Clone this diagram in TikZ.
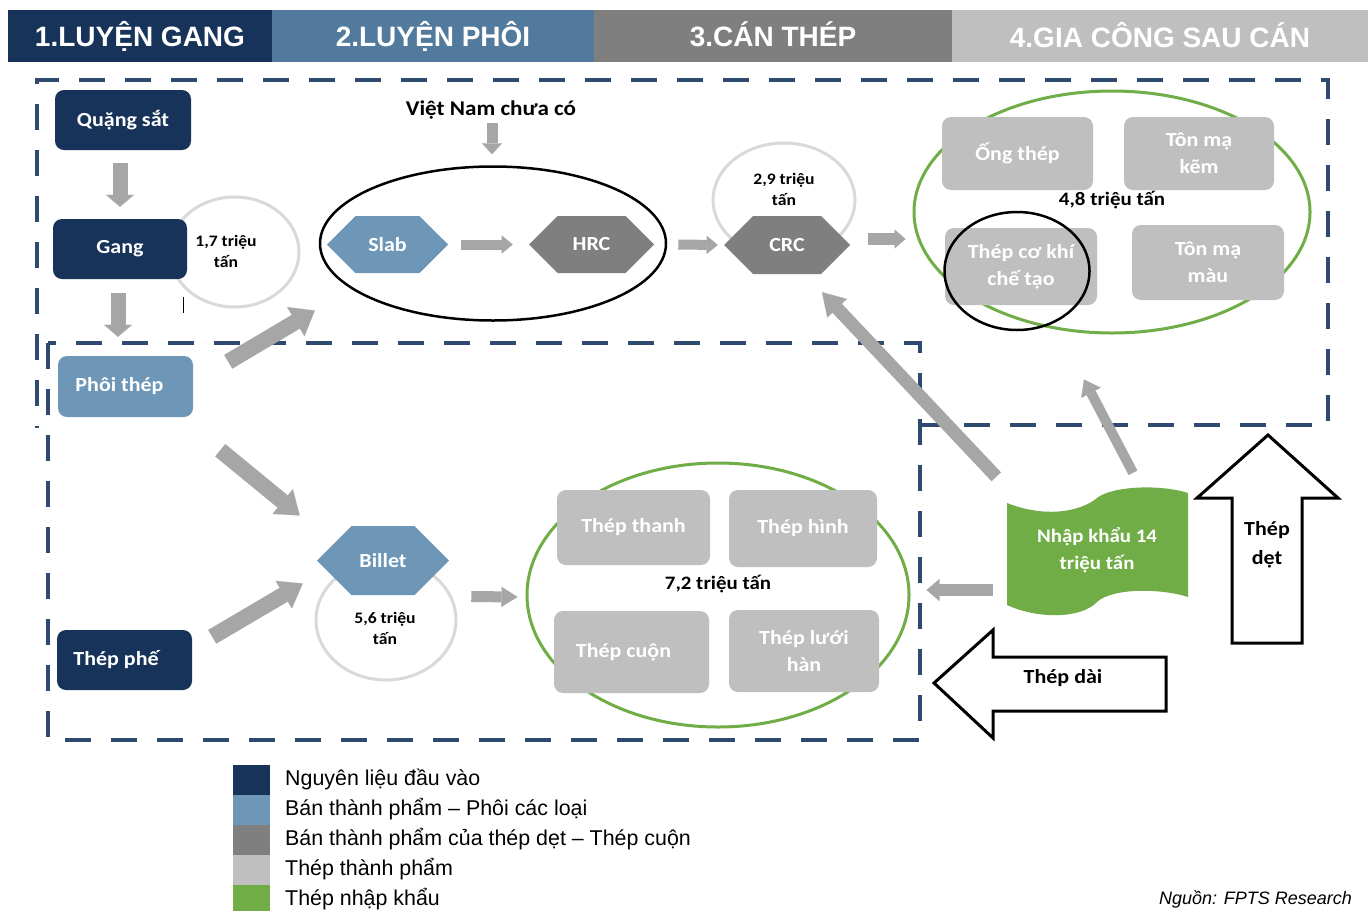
\documentclass[tikz,border=0pt]{standalone}
\usepackage{fontspec}
\setmainfont{Liberation Sans}
\newfontfamily\calib[FakeStretch=1.1]{Carlito}
\usetikzlibrary{shapes.geometric,shapes.symbols,arrows.meta,calc}
\definecolor{navy}{HTML}{17335A}
\definecolor{hdrblue}{HTML}{527A9C}
\definecolor{steel}{HTML}{6D96B7}
\definecolor{dgray}{HTML}{7F7F7F}
\definecolor{lgray}{HTML}{BFBFBF}
\definecolor{agray}{HTML}{A6A6A6}
\definecolor{cgray}{HTML}{D9D9D9}
\definecolor{igreen}{HTML}{70AD47}
\definecolor{dashblue}{HTML}{2E4A6E}
\begin{document}
\begin{tikzpicture}[x=1pt,y=-1pt,
  hdr/.style={font=\fontsize{28}{30}\selectfont\bfseries, text=white, inner sep=0pt},
  box/.style={rounded corners=9pt, inner sep=0pt, font=\calib\fontsize{20}{27}\selectfont\bfseries, text=white, align=center},
  navybox/.style={box, fill=navy},
  steelbox/.style={box, fill=steel},
  prodbox/.style={box, fill=lgray},
  hexa/.style={signal, signal to=west and east, inner sep=0pt, font=\calib\fontsize{20}{24}\selectfont\bfseries, text=white},
  qty/.style={font=\calib\fontsize{16}{21}\selectfont\bfseries, text=black, align=center, inner sep=0pt},
  bigqty/.style={font=\calib\fontsize{19}{22}\selectfont\bfseries, text=black, inner sep=0pt},
  ring/.style={ellipse, draw=cgray, line width=3pt, inner sep=0pt},
  gring/.style={ellipse, draw=igreen, line width=3pt, inner sep=0pt},
  bring/.style={ellipse, draw=black, line width=2.5pt, inner sep=0pt},
  garrow/.style n args={3}{draw=agray, line width=#1, -{Triangle[width=#2,length=#3,line width=0.1pt]}},
  dashline/.style={draw=dashblue, line width=4.5pt, dash pattern=on 26pt off 20pt},
  outarrow/.style={draw=black, line width=3pt, fill=white, line join=miter},
  legtext/.style={anchor=west, font=\fontsize{21.4}{24}\selectfont, inner sep=0pt},
]
\useasboundingbox (0,0) rectangle (1372,911);
\fill[white] (0,0) rectangle (1372,911);

% header
\node[hdr, fill=navy, minimum width=264pt, minimum height=52pt] (h1) at (140,36) {\raisebox{3pt}{1.LUYỆN GANG}};
\node[hdr, fill=hdrblue, minimum width=322pt, minimum height=52pt] (h2) at (433,36) {\raisebox{3pt}{2.LUYỆN PHÔI}};
\node[hdr, fill=dgray, minimum width=358pt, minimum height=52pt] (h3) at (773,36) {\raisebox{3pt}{3.CÁN THÉP}};
\node[hdr, fill=lgray, minimum width=416pt, minimum height=52pt] (h4) at (1160,36) {\raisebox{3pt}{4.GIA CÔNG SAU CÁN}};

% dashed regions
\draw[dashline] (48,343) rectangle (920,740);
\draw[dashline] (918,425) -- (1328,425) -- (1328,80) -- (37,80) -- (37,428);

% background rings
\node[ring, minimum width=129pt, minimum height=110pt] (c17) at (234.5,252) {};
\node[ring, minimum width=142pt, minimum height=114pt] (c29) at (784,200) {};
\node[ring, minimum width=140pt, minimum height=120pt] (c56) at (386,620) {};
\node[gring, minimum width=396pt, minimum height=242pt] (eU) at (1112,212) {};
\node[gring, minimum width=382pt, minimum height=264pt] (eL) at (718,595) {};
\node[bring, minimum width=346pt, minimum height=154pt] (elA) at (493,243.5) {};

% left column
\node[navybox, minimum width=136pt, minimum height=60pt] (quang) at (123,120) {Quặng sắt};
\node[navybox, minimum width=134pt, minimum height=60pt] (gang) at (120,249) {Gang};
\node[steelbox, minimum width=135pt, minimum height=61pt] (phoi) at (125.5,386.5) {Phôi thép\hspace*{12pt}};
\node[navybox, minimum width=135pt, minimum height=60pt] (phe) at (124.5,660) {Thép phế\hspace*{17pt}};

\node[qty] (t17) at (226,251) {1,7 triệu\\tấn};
\draw[black, line width=1pt] (gang.south east) ++ (-4,18) coordinate (cur1) -- ++(0,16) coordinate (cur2);

% flat chain
\node[font=\calib\fontsize{21}{24}\selectfont\bfseries, inner sep=0pt] (vn) at (491,110) {Việt Nam chưa có};
\node[hexa, fill=steel, minimum width=121pt, minimum height=57pt] (slab) at (387.5,244.5) {Slab};
\node[hexa, fill=dgray, minimum width=125pt, minimum height=57pt] (hrc) at (591.5,244.5) {HRC};
\node[hexa, fill=dgray, minimum width=126pt, minimum height=58pt] (crc) at (787,245) {CRC};
\node[qty] (t29) at (784,189) {2,9 triệu\\tấn};

% upper products
\node[prodbox, minimum width=151pt, minimum height=73pt] (ong) at (1017.5,153.5) {Ống thép};
\node[prodbox, minimum width=150pt, minimum height=73pt] (tonkem) at (1199,153.5) {Tôn mạ\\kẽm};
\node[prodbox, minimum width=152pt, minimum height=77pt] (ck) at (1021,266.5) {Thép cơ khí\\chế tạo};
\node[prodbox, minimum width=152pt, minimum height=75pt] (tonmau) at (1208,262.5) {Tôn mạ\\màu};
\node[bigqty] (t48) at (1112,200) {4,8 triệu tấn};
\node[bring, minimum width=145pt, minimum height=118pt] (ckring) at (1017,271) {};

% billet
\node[hexa, fill=steel, minimum width=132pt, minimum height=69pt] (billet) at (383,560.5) {Billet};
\node[qty] (t56) at (385,628) {5,6 triệu\\tấn};

% lower products
\node[prodbox, minimum width=153pt, minimum height=75pt] (thanh) at (633.5,527.5) {Thép thanh};
\node[prodbox, minimum width=148pt, minimum height=77pt] (hinh) at (803,528.5) {Thép hình};
\node[prodbox, minimum width=155pt, minimum height=82pt] (cuon) at (631.5,652) {Thép cuộn\hspace*{16pt}};
\node[prodbox, minimum width=150pt, minimum height=82pt] (luoi) at (804,651) {Thép lưới\\hàn};
\node[bigqty] (t72) at (718,584) {7,2 triệu tấn};

% import banner
\fill[igreen] (1007,503) .. controls (1045,518) and (1080,512) .. (1097,498)
  .. controls (1112,486) and (1160,484) .. (1188,493) -- (1188,597)
  .. controls (1160,588) and (1112,588) .. (1097,602)
  .. controls (1082,618) and (1040,620) .. (1007,605) -- cycle;
\node[font=\calib\fontsize{19}{27}\selectfont\bfseries, text=white, align=center, inner sep=0pt,
  minimum width=181pt, minimum height=110pt] (nk) at (1097,550) {Nhập khẩu 14\\triệu tấn};

% outline arrows
\draw[outarrow] (1232,643) -- (1302,643) -- (1302,498) -- (1338,498) -- (1268,435) -- (1197,498) -- (1232,498) -- cycle;
\node[font=\calib\fontsize{20}{29}\selectfont\bfseries, align=center, inner sep=0pt] (det) at (1267,545) {Thép\\dẹt};
\draw[outarrow] (1166,657) -- (993,657) -- (993,630) -- (934,683) -- (993,738) -- (993,711) -- (1166,711) -- cycle;
\node[font=\calib\fontsize{20}{24}\selectfont\bfseries, inner sep=0pt] (dai) at (1063,678) {Thép dài};

% gray flow arrows
\draw[garrow={15pt}{28pt}{12pt}] ($(gang.north |- quang.south)+(0,13)$) -- ($(gang.north)+(0,-12)$);
\draw[garrow={15pt}{28pt}{12pt}] ($(gang.south)+(-2,14)$) -- ($(gang.south |- phoi.north)+(-2,-19)$);
\draw[garrow={16pt}{34pt}{22pt}] ($(phoi.north east)+(35,6)$) -- ($(elA.west)+(-4,67)$);
\draw[garrow={16pt}{32pt}{22pt}] ($(phoi.south east)+(27,33)$) -- ($(billet.west)+(-17,-45)$);
\draw[garrow={16pt}{32pt}{22pt}] ($(phe.north east)+(20,7)$) -- ($(billet.west)+(-14,23)$);
\draw[garrow={11pt}{20pt}{11pt}] ($(vn.south)+(1,4)$) -- ($(elA.north)+(-1,-11)$);
\draw[garrow={10pt}{18pt}{11pt}] ($(slab.east)+(13,0)$) -- ($(hrc.west)+(-16,0)$);
\draw[garrow={10pt}{18pt}{11pt}] ($(hrc.east)+(24,0)$) -- ($(crc.west)+(-6,0)$);
\draw[garrow={12pt}{19pt}{11pt}] ($(crc.east)+(18,-6)$) -- ($(eU.west)+(-7,27)$);
\draw[garrow={11pt}{20pt}{16pt}] ($(billet.east)+(22,36)$) -- ($(eL.west)+(-8,2)$);
\draw[garrow={13pt}{27pt}{22pt}] ($(nk.north west)+(-10,-18)$) -- ($(crc.south)+(35,18)$);
\draw[garrow={10pt}{22pt}{15pt}] ($(nk.north)+(36,-22)$) -- ($(eU.south)+(-28,45)$);
\draw[garrow={12pt}{22pt}{13pt}] ($(nk.west)+(-13,40)$) -- ($(eL.east)+(16,-5)$);

% legend
\fill[navy] (233,765) rectangle (270,795);
\fill[steel] (233,795) rectangle (270,825);
\fill[dgray] (233,825) rectangle (270,855);
\fill[lgray] (233,855) rectangle (270,885);
\fill[igreen] (233,885) rectangle (270,911);
\node[legtext] (l1) at (285,779) {Nguyên liệu đầu vào};
\node[legtext] (l2) at (285,809) {Bán thành phẩm – Phôi các loại};
\node[legtext] (l3) at (285,839) {Bán thành phẩm của thép dẹt – Thép cuộn};
\node[legtext] (l4) at (285,869) {Thép thành phẩm};
\node[legtext] (l5) at (285,899) {Thép nhập khẩu};
\node[anchor=east, font=\fontsize{18}{20}\selectfont\itshape, inner sep=0pt] (src) at (1352,899) {Nguồn: FPTS Research};
\end{tikzpicture}
\end{document}
